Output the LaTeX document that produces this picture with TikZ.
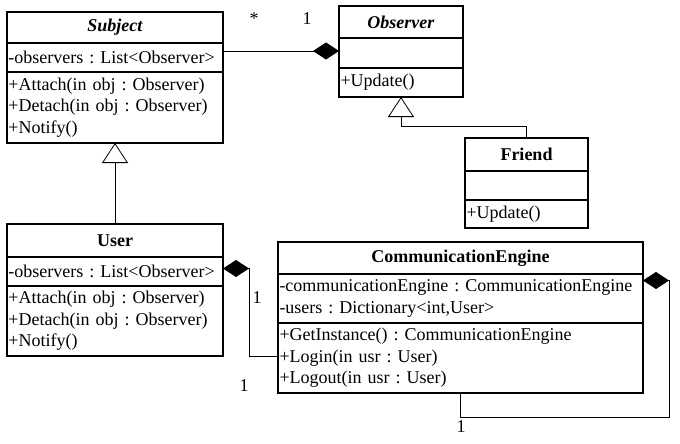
\documentclass[tikz,border=0pt]{standalone}
\usepackage{fontspec}
\setmainfont{Liberation Serif}
\usetikzlibrary{positioning,arrows.meta}
\frenchspacing

\tikzset{
  uml/.style={font=\fontsize{18}{21.5}\selectfont},
  ctitle/.style={uml, draw, line width=1.2pt, outer sep=0pt, inner sep=0pt, font=\fontsize{18}{21.5}\selectfont\bfseries},
  cpart/.style={uml, draw, line width=1.2pt, outer sep=0pt, inner xsep=1.5pt, inner ysep=0pt, align=left},
  comp/.style={line width=0.8pt, -{Diamond[length=26pt,width=17pt]}},
  gen/.style={line width=0.8pt, -{Triangle[open,length=20pt,width=26pt]}},
  mult/.style={uml}
}

\begin{document}
\begin{tikzpicture}[x=1pt, y=-1pt]
\useasboundingbox (0,0) rectangle (680,444);

% Subject
\node[ctitle, anchor=north west, minimum width=216pt, minimum height=31pt] (sj-t) at (7,12) {\textit{Subject}};
\node[cpart, text width=213pt, minimum height=29pt, below=0pt of sj-t] (sj-a) {-observers : List<Observer>};
\node[cpart, text width=213pt, minimum height=71pt, below=0pt of sj-a] (sj-m) {+Attach(in obj : Observer)\\+Detach(in obj : Observer)\\+Notify()};

% Observer
\node[ctitle, anchor=north west, minimum width=124pt, minimum height=32pt] (ob-t) at (339,6) {\textit{Observer}};
\node[cpart, text width=121pt, minimum height=30pt, below=0pt of ob-t] (ob-a) {};
\node[cpart, text width=121pt, minimum height=29pt, below=0pt of ob-a] (ob-m) {+Update()};

% Friend
\node[ctitle, anchor=north west, minimum width=123pt, minimum height=33pt] (fr-t) at (465,138) {Friend};
\node[cpart, text width=120pt, minimum height=29pt, below=0pt of fr-t] (fr-a) {};
\node[cpart, text width=120pt, minimum height=28pt, below=0pt of fr-a] (fr-m) {+Update()};

% User
\node[ctitle, anchor=north west, minimum width=216pt, minimum height=33pt] (us-t) at (7,224) {User};
\node[cpart, text width=213pt, minimum height=29pt, below=0pt of us-t] (us-a) {-observers : List<Observer>};
\node[cpart, text width=213pt, minimum height=70pt, below=0pt of us-a] (us-m) {+Attach(in obj : Observer)\\+Detach(in obj : Observer)\\+Notify()};

% CommunicationEngine
\node[ctitle, anchor=north west, minimum width=365pt, minimum height=32pt] (ce-t) at (278,242) {CommunicationEngine};
\node[cpart, text width=362pt, minimum height=49pt, below=0pt of ce-t] (ce-a) {-communicationEngine : CommunicationEngine\\-users : Dictionary<int,User>};
\node[cpart, text width=362pt, minimum height=70pt, below=0pt of ce-a] (ce-m) {+GetInstance() : CommunicationEngine\\+Login(in usr : User)\\+Logout(in usr : User)};

% associations
\draw[comp] (sj-a.east |- ob-a.west) ++(0,-2) coordinate (sj-o) -- ([yshift=2pt]ob-a.west);
\draw[gen] (fr-t.north) |- ([yshift=-29pt]ob-m.south) -- (ob-m.south);
\draw[gen] (us-t.north) -- (sj-m.south);

\coordinate (us-d) at ([yshift=3pt]us-a.east);
\draw[comp] ([yshift=2pt]ce-m.west) -| ([xshift=26pt]us-d) -- (us-d);

\coordinate (ce-d) at ([yshift=18pt]ce-a.east);
\draw[comp] (ce-m.south) -- ([yshift=-24pt]ce-m.south) -| ([xshift=26pt]ce-d) -- (ce-d);

% multiplicities
\node[mult, anchor=base] (m-star) at (254,25) {*};
\node[mult, anchor=base] (m-ob) at (307,25) {1};
\node[mult] (m-us) at (257,298) {1};
\node[mult] (m-ce) at (244,386) {1};
\node[mult] (m-self) at (461,427) {1};

\end{tikzpicture}
\end{document}
